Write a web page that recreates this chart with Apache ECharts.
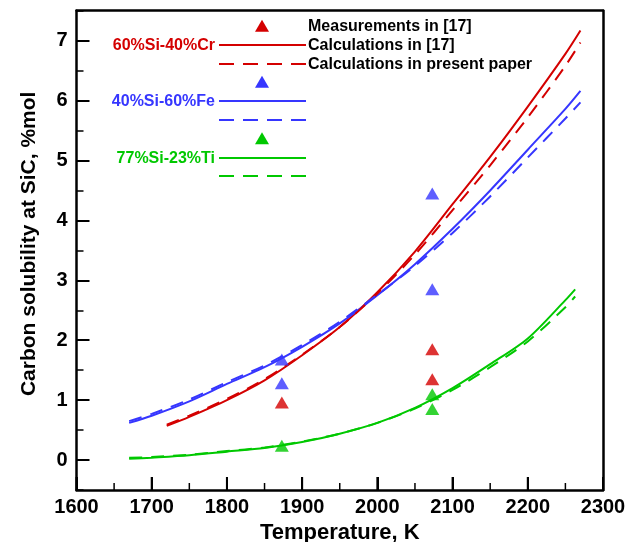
<!DOCTYPE html>
<html>
<head>
<meta charset="utf-8">
<script src="https://cdn.jsdelivr.net/npm/echarts@6/dist/echarts.min.js"></script>
<style>
  html, body { margin: 0; padding: 0; background: #fff; }
  #chart { width: 628px; height: 542px; }
</style>
</head>
<body>
<div id="chart"></div>
<script>
// Carbon solubility in Si-based melts at SiC vs temperature

// Axis ticks
const xTickValues = [1600, 1700, 1800, 1900, 2000, 2100, 2200, 2300];
const xMinorTickValues = [1650, 1750, 1850, 1950, 2050, 2150, 2250];
const yTickValues = [0, 1, 2, 3, 4, 5, 6, 7];
const Y_MIN = -0.5;
const Y_MAX = 7.5;

// 60%Si-40%Cr
const tCr      = [1720, 1750, 1800, 1850, 1900, 1950, 2000, 2050, 2100, 2150, 2200, 2250, 2270];
const crRef    = [0.57, 0.72, 1.00, 1.33, 1.75, 2.22, 2.80, 3.48, 4.27, 5.06, 5.90, 6.78, 7.17];
const crNow    = [0.59, 0.74, 1.02, 1.35, 1.76, 2.22, 2.78, 3.43, 4.17, 4.92, 5.72, 6.58, 6.97];

// 40%Si-60%Fe
const tFe      = [1670, 1700, 1750, 1800, 1850, 1900, 1950, 2000, 2050, 2100, 2150, 2200, 2250, 2270];
const feRef    = [0.62, 0.74, 0.98, 1.27, 1.55, 1.89, 2.28, 2.75, 3.27, 3.86, 4.50, 5.18, 5.86, 6.16];
const feNow    = [0.65, 0.77, 1.01, 1.30, 1.58, 1.92, 2.31, 2.76, 3.24, 3.79, 4.40, 5.05, 5.70, 5.97];

// 77%Si-23%Ti
const tTi      = [1670, 1700, 1750, 1800, 1850, 1900, 1950, 2000, 2050, 2100, 2150, 2200, 2250, 2263];
const tiRef    = [0.02, 0.04, 0.08, 0.14, 0.20, 0.30, 0.44, 0.62, 0.87, 1.20, 1.60, 2.03, 2.67, 2.85];
const tiNow    = [0.04, 0.05, 0.09, 0.15, 0.21, 0.31, 0.44, 0.62, 0.86, 1.17, 1.55, 1.98, 2.55, 2.73];

// Measurements in [17]
const measCrT  = [1873, 2073, 2073];
const measCr   = [0.96, 1.85, 1.35];
const measFeT  = [1873, 1873, 2073, 2073];
const measFe   = [1.68, 1.28, 4.45, 2.85];
const measTiT  = [1873, 2073, 2073];
const measTi   = [0.24, 1.10, 0.85];

const FONT = '"Liberation Sans", Arial, Helvetica, sans-serif';
const RED = '#d40000';
const BLUE = '#3636ff';
const GREEN = '#00c800';
const DASH = [13, 9];
const TICK_FONT = { color: '#000', fontSize: 20, fontWeight: 'bold', fontFamily: FONT };

function frameLine() {
  return { show: true, onZero: false, lineStyle: { color: '#000', width: 2.5 } };
}

const pairs = (xs, ys) => xs.map((x, i) => [x, ys[i]]);

function curve(name, xs, ys, color, dashed) {
  return {
    name: name,
    type: 'line',
    data: pairs(xs, ys),
    showSymbol: false,
    smooth: 0.3,
    silent: true,
    z: dashed ? 3 : 2,
    lineStyle: { color: color, width: 2, type: dashed ? DASH : 'solid' }
  };
}

function points(name, xs, ys, color) {
  return {
    name: name,
    type: 'scatter',
    data: pairs(xs, ys),
    symbol: 'triangle',
    symbolSize: [14, 12],
    z: 4,
    itemStyle: { color: color }
  };
}

// Temperature-axis ticks standing up from the lower frame line
function xTicks(values, len, width) {
  return {
    type: 'custom',
    silent: true,
    clip: false,
    z: 5,
    data: values.map(v => [v, Y_MIN]),
    renderItem: (params, api) => {
      const p = api.coord([api.value(0), api.value(1)]);
      return {
        type: 'line',
        shape: { x1: p[0], y1: p[1], x2: p[0], y2: p[1] - len },
        style: { stroke: '#000', lineWidth: width }
      };
    }
  };
}

// Plain frame side (top / right), no ticks or labels
function frameAxis(position) {
  const ax = {
    type: 'value', position: position,
    axisLine: frameLine(), axisTick: { show: false }, axisLabel: { show: false },
    splitLine: { show: false }
  };
  if (position === 'top') { ax.min = 1600; ax.max = 2300; }
  else { ax.min = Y_MIN; ax.max = Y_MAX; }
  return ax;
}

// Key drawn inside the plot: labels, line samples and marker samples
const keyFont = 'bold 16px ' + FONT;
function keyText(text, x, y, color, align) {
  return { type: 'text', x: x, y: y, z: 10,
    style: { text: text, fill: color, font: keyFont, align: align, verticalAlign: 'middle' } };
}
function keyLine(y, color, dashed) {
  return { type: 'line', z: 10,
    shape: { x1: 219, y1: y, x2: 306, y2: y },
    style: { stroke: color, lineWidth: 2, lineDash: dashed ? [15, 9] : null } };
}
function keyTri(cx, cy, color) {
  return { type: 'polygon', z: 10,
    shape: { points: [[cx, cy - 6], [cx + 7, cy + 6], [cx - 7, cy + 6]] },
    style: { fill: color } };
}

const chart = echarts.init(document.getElementById('chart'), null, { renderer: 'canvas' });

chart.setOption({
  animation: false,
  backgroundColor: '#fff',
  grid: {
    left: 76.5, right: 25, top: 10.7, bottom: 52,
    outerBoundsMode: 'none'
  },
  xAxis: [
    {
      type: 'value', position: 'bottom',
      min: 1600, max: 2300, interval: 100,
      axisLine: frameLine(),
      axisTick: { show: true, inside: true, length: 13, customValues: xTickValues,
                  lineStyle: { color: '#000', width: 2 } },
      axisLabel: Object.assign({ show: true, customValues: xTickValues, margin: 7,
                  formatter: v => String(v) }, TICK_FONT),
      splitLine: { show: false },
      name: 'Temperature, K',
      nameLocation: 'middle',
      nameGap: 24,
      nameTextStyle: { color: '#000', fontSize: 22, fontWeight: 'bold', fontFamily: FONT }
    },
    frameAxis('top')
  ],
  yAxis: [
    {
      // minor ticks every 0.5
      type: 'value', position: 'left',
      min: Y_MIN, max: Y_MAX, interval: 0.5,
      axisLine: frameLine(),
      axisTick: { show: true, inside: true, length: 7, lineStyle: { color: '#000', width: 1.5 } },
      axisLabel: { show: false },
      splitLine: { show: false }
    },
    {
      type: 'value', position: 'left',
      min: Y_MIN, max: Y_MAX,
      axisLine: { show: false, onZero: false },
      axisTick: { show: true, inside: true, length: 13, customValues: yTickValues,
                  lineStyle: { color: '#000', width: 2 } },
      axisLabel: Object.assign({ show: true, customValues: yTickValues, margin: 9 }, TICK_FONT),
      splitLine: { show: false },
      name: 'Carbon solubility at SiC, %mol',
      nameLocation: 'middle',
      nameGap: 37,
      nameTextStyle: { color: '#000', fontSize: 21, fontWeight: 'bold', fontFamily: FONT,
                       padding: [0, 0, 0, 13] }
    },
    frameAxis('right')
  ],
  series: [
    xTicks(xTickValues, 13, 2),
    xTicks(xMinorTickValues, 7, 1.5),
    curve('60%Si-40%Cr calc [17]', tCr, crRef, RED, false),
    curve('60%Si-40%Cr present', tCr, crNow, RED, true),
    curve('40%Si-60%Fe calc [17]', tFe, feRef, BLUE, false),
    curve('40%Si-60%Fe present', tFe, feNow, BLUE, true),
    curve('77%Si-23%Ti calc [17]', tTi, tiRef, GREEN, false),
    curve('77%Si-23%Ti present', tTi, tiNow, GREEN, true),
    points('60%Si-40%Cr meas [17]', measCrT, measCr, RED),
    points('40%Si-60%Fe meas [17]', measFeT, measFe, BLUE),
    points('77%Si-23%Ti meas [17]', measTiT, measTi, GREEN)
  ],
  graphic: [
    keyTri(262, 25.8, RED),
    keyText('Measurements in [17]', 308, 26.5, '#000', 'left'),
    keyText('60%Si-40%Cr', 215, 45.5, RED, 'right'),
    keyLine(45, RED, false),
    keyText('Calculations in [17]', 308, 45.5, '#000', 'left'),
    keyLine(64, RED, true),
    keyText('Calculations in present paper', 308, 64.5, '#000', 'left'),

    keyTri(262, 81.7, BLUE),
    keyText('40%Si-60%Fe', 215, 101.5, BLUE, 'right'),
    keyLine(101, BLUE, false),
    keyLine(120, BLUE, true),

    keyTri(262, 138.2, GREEN),
    keyText('77%Si-23%Ti', 215, 158.5, GREEN, 'right'),
    keyLine(158, GREEN, false),
    keyLine(176, GREEN, true)
  ]
});
</script>
</body>
</html>
